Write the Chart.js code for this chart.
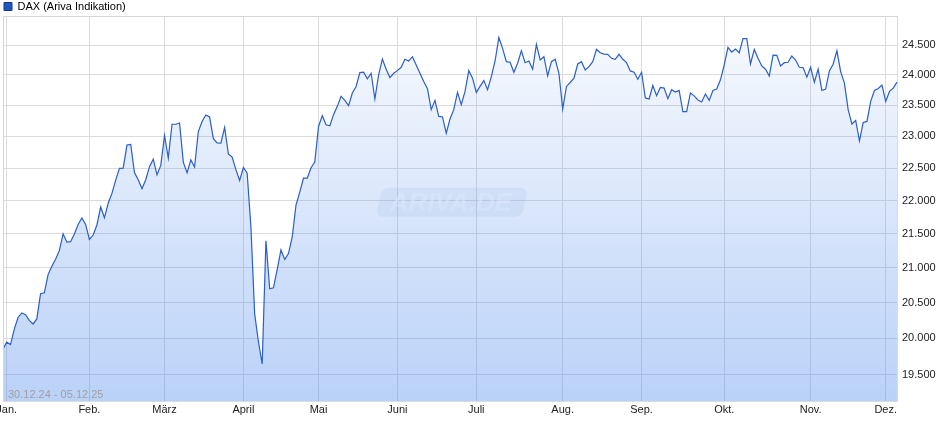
<!DOCTYPE html>
<html><head><meta charset="utf-8">
<script src="https://cdn.jsdelivr.net/npm/chart.js@4/dist/chart.umd.min.js"></script>
<style>html,body{margin:0;padding:0;background:#fff}#wrap{width:940px;height:435px}</style>
</head><body><div id="wrap"><canvas id="c" width="940" height="435"></canvas></div>
<script>
const seriesName = 'DAX (Ariva Indikation)';
const rangeLabel = '30.12.24 - 05.12.25';
const watermark = 'ARIVA.DE';
const monthLabels = ['Jan.','Feb.','März','April','Mai','Juni','Juli','Aug.','Sep.','Okt.','Nov.','Dez.'];
const yTicks = [19500,20000,20500,21000,21500,22000,22500,23000,23500,24000,24500];

const dates = [
'30.12.24',
'02.01.25','03.01.25','06.01.25','07.01.25','08.01.25','09.01.25','10.01.25','13.01.25','14.01.25','15.01.25','16.01.25','17.01.25','20.01.25','21.01.25','22.01.25','23.01.25','24.01.25','27.01.25','28.01.25','29.01.25','30.01.25','31.01.25',
'03.02.25','04.02.25','05.02.25','06.02.25','07.02.25','10.02.25','11.02.25','12.02.25','13.02.25','14.02.25','17.02.25','18.02.25','19.02.25','20.02.25','21.02.25','24.02.25','25.02.25','26.02.25','27.02.25','28.02.25',
'03.03.25','04.03.25','05.03.25','06.03.25','07.03.25','10.03.25','11.03.25','12.03.25','13.03.25','14.03.25','17.03.25','18.03.25','19.03.25','20.03.25','21.03.25','24.03.25','25.03.25','26.03.25','27.03.25','28.03.25','31.03.25',
'01.04.25','02.04.25','03.04.25','04.04.25','07.04.25','08.04.25','09.04.25','10.04.25','11.04.25','14.04.25','15.04.25','16.04.25','17.04.25','22.04.25','23.04.25','24.04.25','25.04.25','28.04.25','29.04.25','30.04.25',
'02.05.25','05.05.25','06.05.25','07.05.25','08.05.25','09.05.25','12.05.25','13.05.25','14.05.25','15.05.25','16.05.25','19.05.25','20.05.25','21.05.25','22.05.25','23.05.25','26.05.25','27.05.25','28.05.25','29.05.25','30.05.25',
'02.06.25','03.06.25','04.06.25','05.06.25','06.06.25','09.06.25','10.06.25','11.06.25','12.06.25','13.06.25','16.06.25','17.06.25','18.06.25','19.06.25','20.06.25','23.06.25','24.06.25','25.06.25','26.06.25','27.06.25','30.06.25',
'01.07.25','02.07.25','03.07.25','04.07.25','07.07.25','08.07.25','09.07.25','10.07.25','11.07.25','14.07.25','15.07.25','16.07.25','17.07.25','18.07.25','21.07.25','22.07.25','23.07.25','24.07.25','25.07.25','28.07.25','29.07.25','30.07.25','31.07.25',
'01.08.25','04.08.25','05.08.25','06.08.25','07.08.25','08.08.25','11.08.25','12.08.25','13.08.25','14.08.25','15.08.25','18.08.25','19.08.25','20.08.25','21.08.25','22.08.25','25.08.25','26.08.25','27.08.25','28.08.25','29.08.25',
'01.09.25','02.09.25','03.09.25','04.09.25','05.09.25','08.09.25','09.09.25','10.09.25','11.09.25','12.09.25','15.09.25','16.09.25','17.09.25','18.09.25','19.09.25','22.09.25','23.09.25','24.09.25','25.09.25','26.09.25','29.09.25','30.09.25',
'01.10.25','02.10.25','03.10.25','06.10.25','07.10.25','08.10.25','09.10.25','10.10.25','13.10.25','14.10.25','15.10.25','16.10.25','17.10.25','20.10.25','21.10.25','22.10.25','23.10.25','24.10.25','27.10.25','28.10.25','29.10.25','30.10.25','31.10.25',
'03.11.25','04.11.25','05.11.25','06.11.25','07.11.25','10.11.25','11.11.25','12.11.25','13.11.25','14.11.25','17.11.25','18.11.25','19.11.25','20.11.25','21.11.25','24.11.25','25.11.25','26.11.25','27.11.25','28.11.25',
'01.12.25','02.12.25','03.12.25','04.12.25'
];

const dax = [
19853,
19946,19913,20128,20290,20354,20329,20249,20199,20270,20626,20639,20902,21022,21125,21251,21500,21376,21383,21497,21640,21737,21640,
21416,21482,21632,21903,21740,21960,22110,22315,22498,22500,22863,22874,22431,22320,22183,22320,22524,22640,22396,22543,
23016,22656,23195,23195,23214,22595,22427,22629,22519,23078,23240,23344,23312,22964,22897,22893,23143,22724,22672,22477,22309,
22511,22422,21602,20341,19952,19647,21397,20698,20711,20978,21261,21121,21209,21453,21933,22130,22346,22346,22506,22595,
23159,23333,23187,23170,23349,23484,23647,23581,23495,23702,23810,24038,24045,23935,24028,23604,24000,24267,24095,23956,24028,
24072,24128,24262,24233,24305,24167,24028,23891,23772,23430,23581,23321,23312,23052,23279,23430,23712,23511,23728,24072,23946,
23712,23810,23907,23756,23972,24233,24630,24445,24222,24212,24045,24195,24405,24205,24233,24095,24512,24250,24305,23984,24222,24262,24028,
23442,23810,23875,23946,24183,24222,24083,24138,24222,24428,24372,24350,24345,24278,24262,24345,24262,24205,24067,24045,23930,
24045,23621,23604,23826,23658,23793,23783,23609,23756,23718,23744,23398,23398,23702,23655,23588,23555,23686,23581,23744,23767,23919,
24167,24462,24383,24433,24372,24613,24613,24183,24428,24278,24150,24095,23984,24333,24328,24150,24205,24212,24317,24250,24128,24122,23963,
24128,23881,24095,23744,23767,24067,24178,24405,24055,23865,23430,23198,23256,22929,23224,23240,23565,23744,23777,23832,
23565,23728,23783,23881
];

const FONT = 'Liberation Sans, Arial, sans-serif';
const monthOf = (d) => parseInt(d.slice(3, 5), 10);
const fmt = (v) => String(Math.round(v)).replace(/\B(?=(\d{3})+(?!\d))/g, '.');

const decor = {
  id: 'decor',
  beforeDatasetsDraw(chart) {
    const ctx = chart.ctx, a = chart.chartArea;
    const cx = (a.left + a.right) / 2 + 1, cy = a.top + (a.bottom - a.top) * 0.484;
    ctx.save();
    ctx.translate(cx, cy);
    ctx.transform(1, 0, -0.22, 1, 0, 0);
    ctx.beginPath();
    ctx.roundRect(-72, -14.5, 146, 29, 7);
    ctx.fillStyle = 'rgba(150,170,205,0.13)';
    ctx.fill();
    ctx.restore();
    ctx.save();
    ctx.font = 'italic bold 26px ' + FONT;
    ctx.textAlign = 'center';
    ctx.textBaseline = 'middle';
    ctx.fillStyle = 'rgba(255,255,255,0.55)';
    ctx.fillText(watermark, cx, cy + 1);
    ctx.restore();
  },
  afterDatasetsDraw(chart) {
    const ctx = chart.ctx, a = chart.chartArea;
    ctx.save();
    ctx.strokeStyle = '#d6d6d6';
    ctx.lineWidth = 1;
    ctx.beginPath();
    ctx.moveTo(a.left + 0.5, a.bottom);
    ctx.lineTo(a.left + 0.5, a.top + 0.5);
    ctx.lineTo(a.right, a.top + 0.5);
    ctx.stroke();
    ctx.font = '11px ' + FONT;
    ctx.fillStyle = '#a0a0a0';
    ctx.textBaseline = 'middle';
    ctx.fillText(rangeLabel, a.left + 5, a.bottom - 6);
    ctx.restore();
  }
};

new Chart(document.getElementById('c'), {
  type: 'line',
  data: {
    labels: dates,
    datasets: [{
      label: seriesName,
      data: dax,
      borderColor: '#2a5ec8',
      borderWidth: 1.2,
      pointRadius: 0,
      tension: 0,
      fill: 'start',
      backgroundColor: (c) => {
        const a = c.chart.chartArea;
        if (!a) return 'rgba(64,129,235,0.2)';
        const g = c.chart.ctx.createLinearGradient(0, a.top, 0, a.bottom);
        g.addColorStop(0, 'rgba(64,129,235,0.03)');
        g.addColorStop(1, 'rgba(64,129,235,0.36)');
        return g;
      }
    }]
  },
  options: {
    responsive: false,
    animation: false,
    devicePixelRatio: 1,
    layout: { padding: { left: 3, right: 0, top: 0, bottom: 0 } },
    plugins: {
      legend: {
        display: true,
        position: 'top',
        align: 'start',
        maxHeight: 16,
        labels: {
          boxWidth: 8, boxHeight: 8, padding: 1,
          color: '#222', font: { family: FONT, size: 11 },
          generateLabels: (chart) => chart.data.datasets.map((ds, i) => ({
            text: ds.label, fillStyle: '#1f55c0', strokeStyle: '#163c86', lineWidth: 1,
            hidden: false, datasetIndex: i
          }))
        }
      },
      tooltip: { enabled: false }
    },
    scales: {
      x: {
        type: 'category',
        offset: false,
        grid: { color: '#dcdcdc', drawTicks: false, lineWidth: 1 },
        border: { color: '#dcdcdc' },
        ticks: {
          autoSkip: false, maxRotation: 0, minRotation: 0, padding: 2,
          color: '#222', font: { family: FONT, size: 11 },
          callback: (v) => monthLabels[monthOf(dates[v]) - 1]
        },
        afterBuildTicks: (s) => {
          s.ticks = s.ticks.filter(t => t.value > 0 && monthOf(dates[t.value]) !== monthOf(dates[t.value - 1]));
        },
        afterFit: (s) => { s.height = 34; s.paddingLeft = 0; s.paddingRight = 0; }
      },
      y: {
        type: 'logarithmic',
        position: 'right',
        min: 19150,
        max: 25000,
        grid: { color: '#dcdcdc', drawTicks: false, lineWidth: 1 },
        border: { color: '#dcdcdc' },
        ticks: {
          padding: 5, color: '#222', font: { family: FONT, size: 11 },
          callback: (v) => fmt(v)
        },
        afterBuildTicks: (s) => { s.ticks = yTicks.map(v => ({ value: v })); },
        afterFit: (s) => { s.width = 43; s.paddingTop = 0; s.paddingBottom = 0; }
      }
    }
  },
  plugins: [decor]
});
</script>
</body></html>
